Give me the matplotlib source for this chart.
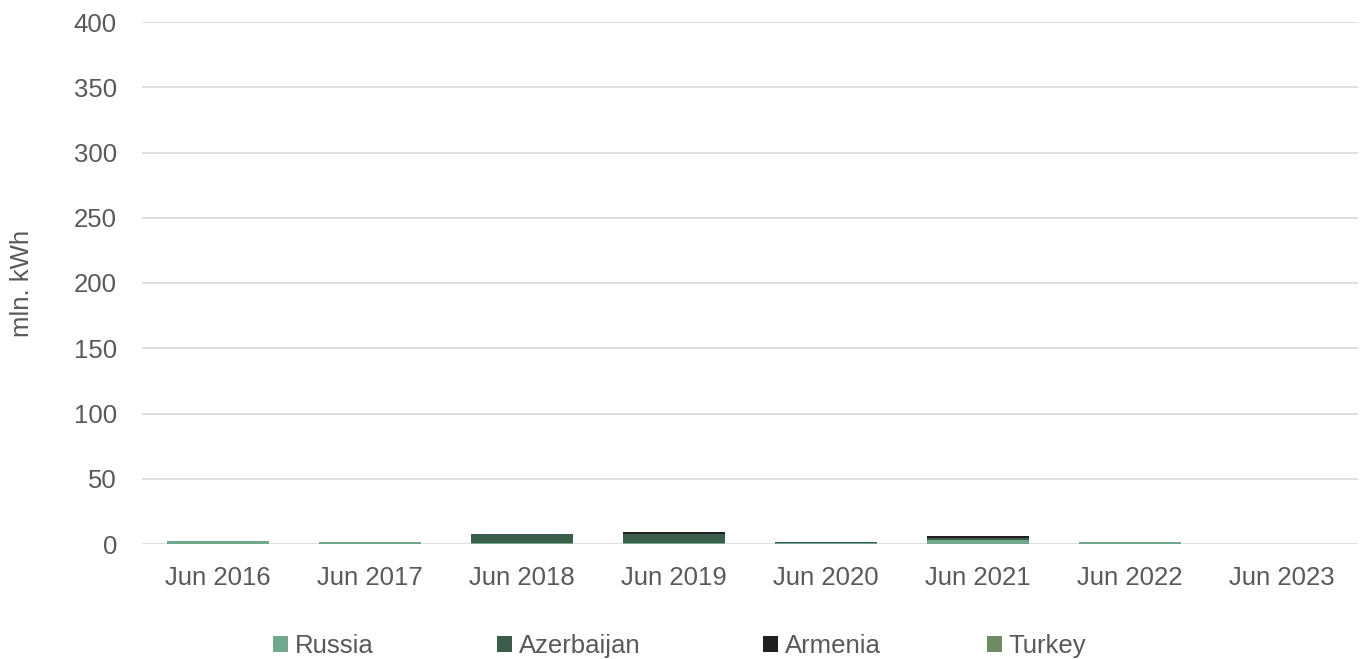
import numpy as np
from matplotlib import pyplot as plt

plt.rcParams['font.family'] = ['Liberation Sans', 'DejaVu Sans']

# Data (mln. kWh)
months = ['Jun 2016', 'Jun 2017', 'Jun 2018', 'Jun 2019',
          'Jun 2020', 'Jun 2021', 'Jun 2022', 'Jun 2023']
russia     = [2.0, 1.2, 0.5, 0.5, 1.0, 3.0, 1.5, 0.0]
azerbaijan = [0.0, 0.3, 7.0, 7.5, 0.2, 1.5, 0.3, 0.0]
armenia    = [0.0, 0.0, 0.0, 1.2, 0.0, 1.5, 0.0, 0.0]
turkey     = [0.0, 0.0, 0.0, 0.0, 0.0, 0.0, 0.0, 0.0]

series = [
    ('Russia', russia, '#6fa88a'),
    ('Azerbaijan', azerbaijan, '#3b5e4b'),
    ('Armenia', armenia, '#231f20'),
    ('Turkey', turkey, '#6e8c62'),
]

text_color = '#595959'
fs = 18.5

fig = plt.figure(figsize=(13.62, 6.59), dpi=100)
ax = fig.add_axes([142 / 1362, 1 - 544 / 659, (1358 - 142) / 1362, (544 - 22) / 659])

x = np.arange(len(months))
bottom = np.zeros(len(months))
for name, vals, color in series:
    vals = np.array(vals)
    ax.bar(x, vals, bottom=bottom, width=0.67, color=color, label=name, zorder=3)
    bottom += vals

ax.set_xlim(-0.5, len(months) - 0.5)
ax.set_ylim(0, 400)
ax.set_yticks(np.arange(0, 401, 50))
ax.set_xticks(x)
ax.set_xticklabels(months)
ax.tick_params(axis='both', length=0, labelsize=fs, colors=text_color)
ax.tick_params(axis='x', pad=16)
ax.tick_params(axis='y', pad=18)
ax.grid(axis='y', color='#d9d9d9', linewidth=1.2, zorder=0)
for s in ax.spines.values():
    s.set_visible(False)

ax.set_ylabel('mln. kWh', fontsize=fs, color=text_color, labelpad=29)

# legend entries placed one by one, as in the reference
handles, labels = ax.get_legend_handles_labels()
legend_left = [273, 497, 763, 987]
for h, lab, xl in zip(handles, labels, legend_left):
    leg = fig.legend([h], [lab], loc='center left',
                     bbox_to_anchor=(xl / 1362, 1 - 646 / 659),
                     frameon=False, fontsize=fs, labelcolor=text_color,
                     handlelength=0.6, handleheight=0.6, handletextpad=0.25,
                     borderpad=0, borderaxespad=0)

fig.savefig('out.png', dpi=100)
